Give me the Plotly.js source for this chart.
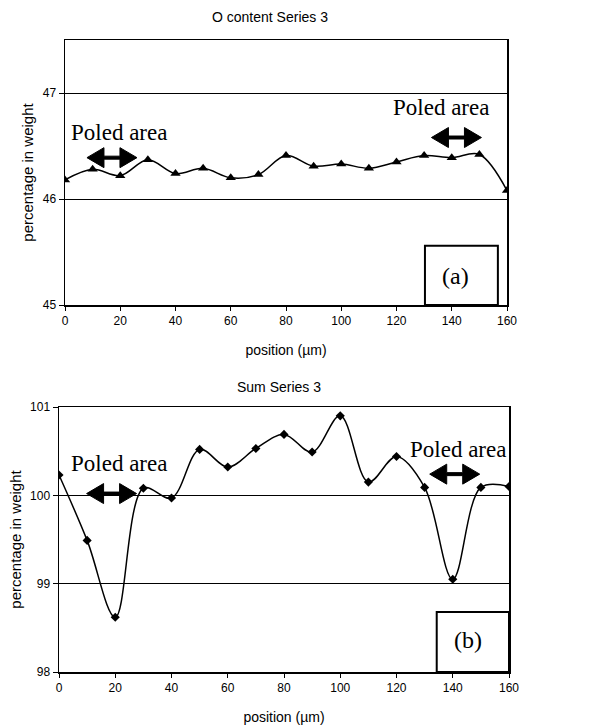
<!DOCTYPE html>
<html>
<head>
<meta charset="utf-8">
<script src="https://cdn.plot.ly/plotly-3.0.1.min.js"></script>
<style>html,body{margin:0;padding:0;background:#fff}#chart{width:589px;height:725px}</style>
</head>
<body>
<div id="chart"></div>
<script>
// ---- data ----
const positions = [0, 10, 20, 30, 40, 50, 60, 70, 80, 90, 100, 110, 120, 130, 140, 150, 160];
const oContent = [46.18, 46.28, 46.22, 46.37, 46.24, 46.29, 46.20, 46.23, 46.41, 46.31, 46.33, 46.29, 46.35, 46.41, 46.39, 46.42, 46.08];
const sumValues = [100.23, 99.49, 98.62, 100.08, 99.97, 100.52, 100.32, 100.53, 100.69, 100.49, 100.90, 100.15, 100.44, 100.09, 99.05, 100.09, 100.10];
const xTicks = [0, 20, 40, 60, 80, 100, 120, 140, 160];
const yTicksTop = [45, 46, 47];
const yTicksBottom = [98, 99, 100, 101];
const titleTop = "O content Series 3";
const titleBottom = "Sum Series 3";
const xTitle = "position (µm)";
const yTitle = "percentage in weight";
const poledLabel = "Poled area";

const sans = "Arial, 'Liberation Sans', sans-serif";
const serif = "'Times New Roman', 'Liberation Serif', serif";

const traces = [
  {x: positions, y: oContent, xaxis: 'x', yaxis: 'y', type: 'scatter', mode: 'lines+markers',
   line: {color: '#000', width: 1.5, shape: 'spline', smoothing: 1},
   marker: {symbol: 'triangle-up', size: 9, color: '#000'}, showlegend: false},
  {x: positions, y: sumValues, xaxis: 'x2', yaxis: 'y2', type: 'scatter', mode: 'lines+markers',
   line: {color: '#000', width: 1.5, shape: 'spline', smoothing: 1},
   marker: {symbol: 'diamond', size: 7, color: '#000'}, showlegend: false}
];

function xa(domain, anchor) {
  return {domain: domain, anchor: anchor, range: [0, 160], tickvals: xTicks, ticktext: xTicks.map(String),
    ticks: 'outside', ticklen: 4, tickcolor: '#000', showline: true, linecolor: '#000', linewidth: 1.5, mirror: true,
    showgrid: false, zeroline: false, tickfont: {family: sans, size: 12, color: '#000'},
    title: {text: xTitle, font: {family: sans, size: 14, color: '#000'}, standoff: 18}, automargin: false};
}
function ya(domain, anchor, range, ticks) {
  return {domain: domain, anchor: anchor, range: range, tickvals: ticks, ticktext: ticks.map(String),
    ticks: 'outside', ticklen: 5, tickcolor: '#000', showline: true, linecolor: '#000', linewidth: 1.5, mirror: true,
    showgrid: true, gridcolor: '#000', gridwidth: 1, zeroline: false, tickfont: {family: sans, size: 12, color: '#000'},
    title: {text: yTitle, font: {family: sans, size: 15, color: '#000'}, standoff: 5}, automargin: false};
}

function arrowPath() {
  return 'M -25,0 L -8,10 L -8,1.5 L 8,1.5 L 8,10 L 25,0 L 8,-10 L 8,-1.5 L -8,-1.5 L -8,-10 Z';
}
function arrow(xref, yref, xc, yc) {
  return {type: 'path', xref: xref, yref: yref, xsizemode: 'pixel', ysizemode: 'pixel',
    xanchor: xc, yanchor: yc, path: arrowPath(), fillcolor: '#000', line: {color: '#000', width: 1}};
}

const layout = {
  width: 589, height: 725,
  margin: {l: 0, r: 0, t: 0, b: 0},
  paper_bgcolor: '#fff', plot_bgcolor: '#fff',
  showlegend: false,
  title: {text: titleTop, font: {family: sans, size: 14, color: '#000'}, x: 270/589, xanchor: 'center', xref: 'paper',
          y: 1 - 17/725, yanchor: 'middle', yref: 'container'},
  xaxis: xa([65/589, 507/589], 'y'),
  yaxis: ya([1 - 305/725, 1 - 40/725], 'x', [45, 47.5], yTicksTop),
  xaxis2: xa([59/589, 509/589], 'y2'),
  yaxis2: ya([1 - 672/725, 1 - 407/725], 'x2', [98, 101], yTicksBottom),
  shapes: [
    arrow('x', 'y', 17, 46.39),
    arrow('x', 'y', 141.7, 46.58),
    {type: 'rect', xref: 'x', yref: 'y', x0: 130.3, x1: 156.7, y0: 45, y1: 45.56, line: {color: '#000', width: 2}, fillcolor: '#fff'},
    arrow('x2', 'y2', 18.7, 100.02),
    arrow('x2', 'y2', 140.7, 100.24),
    {type: 'rect', xref: 'x2', yref: 'y2', x0: 134.3, x1: 160, y0: 98, y1: 98.68, line: {color: '#000', width: 2}, fillcolor: '#fff'}
  ],
  annotations: [
    {text: titleBottom, xref: 'paper', yref: 'paper', x: 279/589, y: 1 - 387/725, showarrow: false,
     font: {family: sans, size: 14, color: '#000'}, xanchor: 'center', yanchor: 'middle'},
    {text: poledLabel, xref: 'x', yref: 'y', x: 19.5, y: 46.63, showarrow: false, font: {family: serif, size: 23, color: '#000'}},
    {text: poledLabel, xref: 'x', yref: 'y', x: 136, y: 46.86, showarrow: false, font: {family: serif, size: 23, color: '#000'}},
    {text: '(a)', xref: 'x', yref: 'y', x: 141.5, y: 45.27, showarrow: false, font: {family: serif, size: 24, color: '#000'}},
    {text: poledLabel, xref: 'x2', yref: 'y2', x: 21.2, y: 100.36, showarrow: false, font: {family: serif, size: 23, color: '#000'}},
    {text: poledLabel, xref: 'x2', yref: 'y2', x: 141.9, y: 100.52, showarrow: false, font: {family: serif, size: 23, color: '#000'}},
    {text: '(b)', xref: 'x2', yref: 'y2', x: 145.5, y: 98.36, showarrow: false, font: {family: serif, size: 24, color: '#000'}}
  ]
};

Plotly.newPlot('chart', traces, layout, {staticPlot: true, displayModeBar: false});
</script>
</body>
</html>
